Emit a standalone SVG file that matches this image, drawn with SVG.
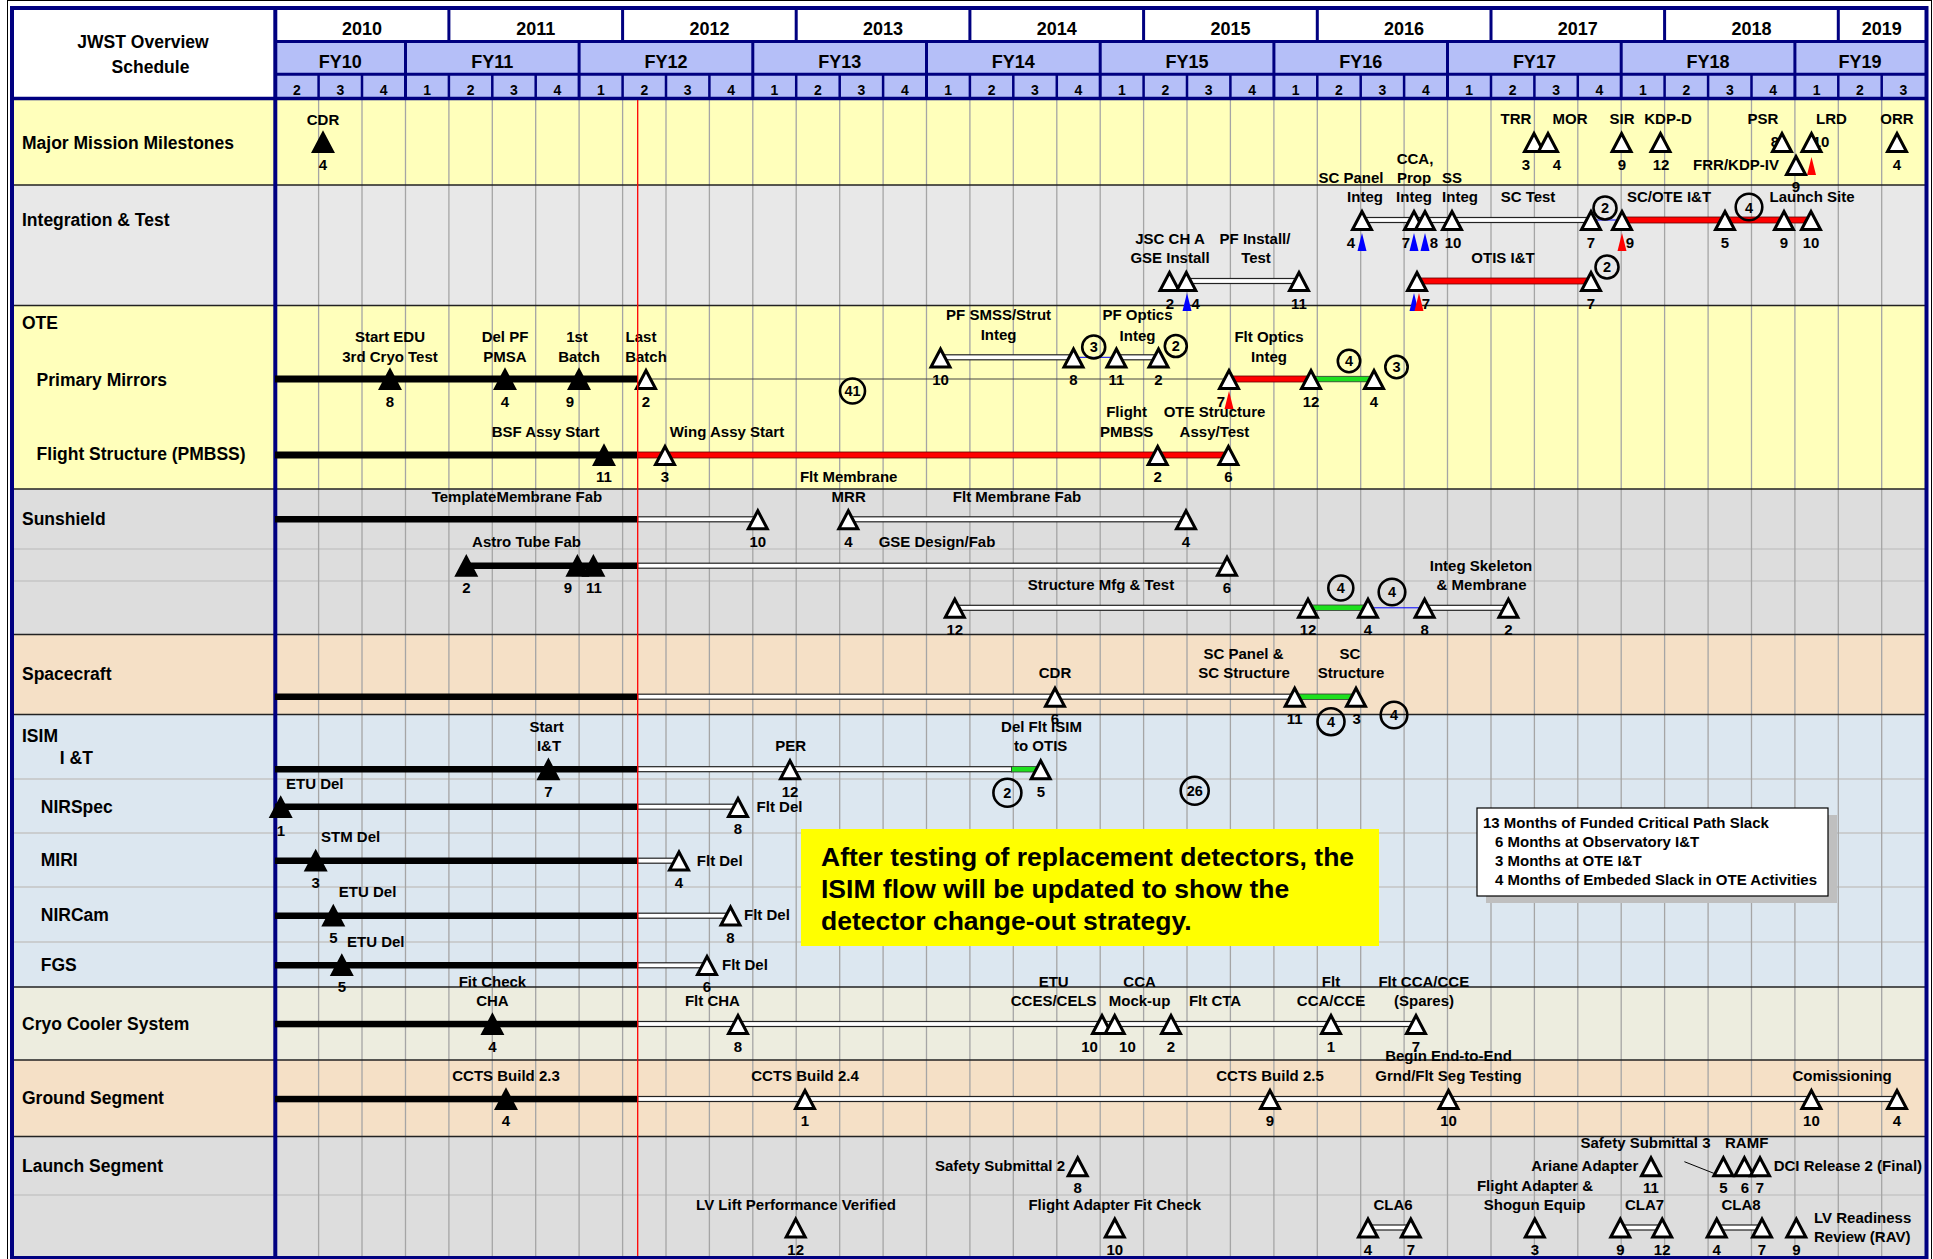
<svg xmlns="http://www.w3.org/2000/svg" width="1933" height="1259" viewBox="0 0 1933 1259">
<style>
text{font-family:"Liberation Sans",Arial,sans-serif;font-weight:bold;fill:#000}
.sec{font-size:17.5px}
.hd{font-size:18px;text-anchor:middle}
.ttl{font-size:17.5px;text-anchor:middle}
.q{font-size:14px;text-anchor:middle}
.l{font-size:15px;text-anchor:middle}
.ls{font-size:15px}
.le{font-size:15px;text-anchor:end}
.n{font-size:15px;text-anchor:middle}
.c{font-size:14.5px;text-anchor:middle}
.note{font-size:26.5px}
.sl{font-size:15px}
.bk{fill:#000}
.wb{fill:#fff;stroke:#222;stroke-width:1.2}
.rb{fill:#f00;stroke:#600;stroke-width:0.8}
.gb{fill:#1ee01e;stroke:#333;stroke-width:0.8}
.grid{stroke:#a5a5a5;stroke-width:1.3;fill:none}
.sep{stroke:#222;stroke-width:1.3}
.sub{stroke:#c4c4c4;stroke-width:1.5}
.nv{stroke:#000080;fill:none}
.cir{fill:none;stroke:#000;stroke-width:2.6}
</style>
<defs>
<path id="tw" d="M0,-8.5 L9.5,9.5 L-9.5,9.5 Z" fill="#fff" stroke="#000" stroke-width="3"/>
<path id="tb" d="M0,-8.5 L9.5,9.5 L-9.5,9.5 Z" fill="#000" stroke="#000" stroke-width="3"/>
<path id="mb" d="M0,0 L4.5,18 L-4.5,18 Z" fill="#0000ff"/>
<path id="mr" d="M0,0 L4.5,18 L-4.5,18 Z" fill="#ff0000"/>
</defs>

<g id="background">
<rect x="0" y="0" width="1933" height="1259" fill="#fff"/>
<rect x="12" y="100" width="1914" height="85" fill="#ffffbb"/>
<rect x="12" y="185" width="1914" height="120.5" fill="#e8e8e8"/>
<rect x="12" y="305.5" width="1914" height="183.5" fill="#ffffbb"/>
<rect x="12" y="489" width="1914" height="145.5" fill="#dddddd"/>
<rect x="12" y="634.5" width="1914" height="80" fill="#f5e0c6"/>
<rect x="12" y="714.5" width="1914" height="272.5" fill="#dce7f0"/>
<rect x="12" y="987" width="1914" height="73" fill="#ededdf"/>
<rect x="12" y="1060" width="1914" height="76.5" fill="#f5e0c6"/>
<rect x="12" y="1136.5" width="1914" height="122" fill="#dddddd"/>
<g class="sub">
<line x1="12" y1="549" x2="1926" y2="549"/><line x1="12" y1="581" x2="1926" y2="581"/>
<line x1="12" y1="779" x2="1926" y2="779"/><line x1="12" y1="833" x2="1926" y2="833"/>
<line x1="12" y1="887" x2="1926" y2="887"/><line x1="12" y1="942" x2="1926" y2="942"/>
<line x1="12" y1="1195" x2="1926" y2="1195"/>
</g>
<path class="grid" d="M318.6,100V1256M362,100V1256M405.5,100V1256M448.9,100V1256M492.3,100V1256M535.7,100V1256M579.1,100V1256M622.6,100V1256M666,100V1256M709.4,100V1256M752.8,100V1256M796.2,100V1256M839.7,100V1256M883.1,100V1256M926.5,100V1256M969.9,100V1256M1013.3,100V1256M1056.8,100V1256M1100.2,100V1256M1143.6,100V1256M1187,100V1256M1230.4,100V1256M1273.9,100V1256M1317.3,100V1256M1360.7,100V1256M1404.1,100V1256M1447.5,100V1256M1491,100V1256M1534.4,100V1256M1577.8,100V1256M1621.2,100V1256M1664.6,100V1256M1708.1,100V1256M1751.5,100V1256M1794.9,100V1256M1838.3,100V1256M1881.7,100V1256"/>
<g class="sep">
<line x1="12" y1="185" x2="1926" y2="185"/><line x1="12" y1="305.5" x2="1926" y2="305.5"/>
<line x1="12" y1="489" x2="1926" y2="489"/><line x1="12" y1="634.5" x2="1926" y2="634.5"/>
<line x1="12" y1="714.5" x2="1926" y2="714.5"/><line x1="12" y1="987" x2="1926" y2="987"/>
<line x1="12" y1="1060" x2="1926" y2="1060"/><line x1="12" y1="1136.5" x2="1926" y2="1136.5"/>
</g>
</g>

<g id="header">
<rect x="12" y="8" width="1914" height="92" fill="#fff"/>
<rect x="275.2" y="41.5" width="1650" height="57" fill="#b5bff8"/>
<line class="nv" stroke-width="3" x1="275" y1="41.5" x2="1926" y2="41.5"/>
<line class="nv" stroke-width="3" x1="275" y1="74.2" x2="1926" y2="74.2"/>
<line class="nv" stroke-width="3.5" x1="12" y1="98.5" x2="1926" y2="98.5"/>
<path class="nv" stroke-width="3" d="M448.9,8V41.5M622.6,8V41.5M796.2,8V41.5M969.9,8V41.5M1143.6,8V41.5M1317.3,8V41.5M1491,8V41.5M1664.6,8V41.5M1838.3,8V41.5"/>
<path class="nv" stroke-width="3" d="M405.5,41.5V98M579.1,41.5V98M752.8,41.5V98M926.5,41.5V98M1100.2,41.5V98M1273.9,41.5V98M1447.5,41.5V98M1621.2,41.5V98M1794.9,41.5V98"/>
<path class="nv" stroke-width="2.5" d="M318.6,74V98M362,74V98M448.9,74V98M492.3,74V98M535.7,74V98M622.6,74V98M666,74V98M709.4,74V98M796.2,74V98M839.7,74V98M883.1,74V98M969.9,74V98M1013.3,74V98M1056.8,74V98M1143.6,74V98M1187,74V98M1230.4,74V98M1317.3,74V98M1360.7,74V98M1404.1,74V98M1491,74V98M1534.4,74V98M1577.8,74V98M1664.6,74V98M1708.1,74V98M1751.5,74V98M1838.3,74V98M1881.7,74V98"/>
<text class="ttl" x="143" y="48">JWST Overview</text>
<text class="ttl" x="150.5" y="72.7">Schedule</text>
<text class="hd" x="362" y="35">2010</text><text class="hd" x="535.7" y="35">2011</text><text class="hd" x="709.4" y="35">2012</text><text class="hd" x="883.1" y="35">2013</text><text class="hd" x="1056.8" y="35">2014</text><text class="hd" x="1230.4" y="35">2015</text><text class="hd" x="1404.1" y="35">2016</text><text class="hd" x="1577.8" y="35">2017</text><text class="hd" x="1751.5" y="35">2018</text><text class="hd" x="1881.7" y="35">2019</text>
<text class="hd" x="340.3" y="68">FY10</text><text class="hd" x="492.3" y="68">FY11</text><text class="hd" x="666" y="68">FY12</text><text class="hd" x="839.7" y="68">FY13</text><text class="hd" x="1013.3" y="68">FY14</text><text class="hd" x="1187" y="68">FY15</text><text class="hd" x="1360.7" y="68">FY16</text><text class="hd" x="1534.4" y="68">FY17</text><text class="hd" x="1708.1" y="68">FY18</text><text class="hd" x="1860" y="68">FY19</text>
<g>
<text class="q" x="296.9" y="94.5">2</text><text class="q" x="340.3" y="94.5">3</text><text class="q" x="383.7" y="94.5">4</text>
<text class="q" x="427.2" y="94.5">1</text><text class="q" x="470.6" y="94.5">2</text><text class="q" x="514" y="94.5">3</text><text class="q" x="557.4" y="94.5">4</text>
<text class="q" x="600.8" y="94.5">1</text><text class="q" x="644.3" y="94.5">2</text><text class="q" x="687.7" y="94.5">3</text><text class="q" x="731.1" y="94.5">4</text>
<text class="q" x="774.5" y="94.5">1</text><text class="q" x="817.9" y="94.5">2</text><text class="q" x="861.4" y="94.5">3</text><text class="q" x="904.8" y="94.5">4</text>
<text class="q" x="948.2" y="94.5">1</text><text class="q" x="991.6" y="94.5">2</text><text class="q" x="1035" y="94.5">3</text><text class="q" x="1078.5" y="94.5">4</text>
<text class="q" x="1121.9" y="94.5">1</text><text class="q" x="1165.3" y="94.5">2</text><text class="q" x="1208.7" y="94.5">3</text><text class="q" x="1252.1" y="94.5">4</text>
<text class="q" x="1295.6" y="94.5">1</text><text class="q" x="1339" y="94.5">2</text><text class="q" x="1382.4" y="94.5">3</text><text class="q" x="1425.8" y="94.5">4</text>
<text class="q" x="1469.2" y="94.5">1</text><text class="q" x="1512.7" y="94.5">2</text><text class="q" x="1556.1" y="94.5">3</text><text class="q" x="1599.5" y="94.5">4</text>
<text class="q" x="1642.9" y="94.5">1</text><text class="q" x="1686.3" y="94.5">2</text><text class="q" x="1729.8" y="94.5">3</text><text class="q" x="1773.2" y="94.5">4</text>
<text class="q" x="1816.6" y="94.5">1</text><text class="q" x="1860" y="94.5">2</text><text class="q" x="1903.4" y="94.5">3</text>
</g>
</g>

<g id="frame">
<rect x="7.5" y="0.5" width="1924" height="1259" fill="none" stroke="#000" stroke-width="1"/>
<rect x="12" y="8" width="1914.5" height="1250" class="nv" stroke-width="4"/>
<line class="nv" stroke-width="4" x1="275.3" y1="8" x2="275.3" y2="1258"/>
</g>

<g id="row-labels">
<text class="sec" x="22" y="148.5">Major Mission Milestones</text>
<text class="sec" x="22" y="226">Integration &amp; Test</text>
<text class="sec" x="22" y="328.5">OTE</text>
<text class="sec" x="36.6" y="386">Primary Mirrors</text>
<text class="sec" x="36.6" y="460">Flight Structure (PMBSS)</text>
<text class="sec" x="22" y="525">Sunshield</text>
<text class="sec" x="22" y="680">Spacecraft</text>
<text class="sec" x="22" y="742">ISIM</text>
<text class="sec" x="59.8" y="764">I &amp;T</text>
<text class="sec" x="40.8" y="812.5">NIRSpec</text>
<text class="sec" x="40.8" y="866">MIRI</text>
<text class="sec" x="40.8" y="921">NIRCam</text>
<text class="sec" x="40.8" y="971">FGS</text>
<text class="sec" x="22" y="1030">Cryo Cooler System</text>
<text class="sec" x="22" y="1104">Ground Segment</text>
<text class="sec" x="22" y="1172">Launch Segment</text>
</g>

<g id="connectors">
<rect class="bk" x="275" y="375.5" width="362.7" height="7"/>
<rect class="bk" x="275" y="451.5" width="362.7" height="7"/>
<rect class="bk" x="275" y="516" width="362.7" height="6.5"/>
<rect class="bk" x="466" y="562.5" width="171.7" height="6.5"/>
<rect class="bk" x="275" y="693.5" width="362.7" height="6.5"/>
<rect class="bk" x="275" y="766" width="362.7" height="6.5"/>
<rect class="bk" x="275" y="803.5" width="362.7" height="6.5"/>
<rect class="bk" x="275" y="857.5" width="362.7" height="6.5"/>
<rect class="bk" x="275" y="912.5" width="362.7" height="6.5"/>
<rect class="bk" x="275" y="962" width="362.7" height="6.5"/>
<rect class="bk" x="275" y="1020.8" width="362.7" height="6.5"/>
<rect class="bk" x="275" y="1095.8" width="362.7" height="6.5"/>

<rect class="wb" x="1362" y="217.5" width="229" height="5"/>
<rect class="wb" x="1186" y="278.5" width="113" height="5"/>
<rect class="wb" x="940.5" y="354.8" width="133" height="5"/>
<rect class="wb" x="1116.4" y="354.8" width="42" height="5"/>
<rect class="wb" x="637.7" y="516.8" width="120" height="5"/>
<rect class="wb" x="848.3" y="516.8" width="337.7" height="5"/>
<rect class="wb" x="637.7" y="563.2" width="589.3" height="5"/>
<rect class="wb" x="955" y="605.3" width="353" height="5"/>
<rect class="wb" x="1424.6" y="605.3" width="83.8" height="5"/>
<rect class="wb" x="637.7" y="694.2" width="657" height="5"/>
<rect class="wb" x="637.7" y="766.7" width="374" height="5"/>
<rect class="wb" x="637.7" y="804.2" width="100.3" height="5"/>
<rect class="wb" x="637.7" y="858.2" width="41.3" height="5"/>
<rect class="wb" x="637.7" y="913.2" width="92.8" height="5"/>
<rect class="wb" x="637.7" y="962.8" width="69.3" height="5"/>
<rect class="wb" x="637.7" y="1021.5" width="778.3" height="5"/>
<rect class="wb" x="637.7" y="1096.5" width="1259.3" height="5"/>
<rect class="wb" x="1368" y="1225" width="42.8" height="5"/>
<rect class="wb" x="1620.3" y="1225" width="41.9" height="5"/>
<rect class="wb" x="1716.7" y="1225" width="45.3" height="5"/>

<rect class="rb" x="1622" y="217" width="189" height="6"/>
<rect class="rb" x="1417" y="278" width="174" height="6"/>
<rect class="rb" x="1229" y="376" width="82" height="6"/>
<rect class="rb" x="637.7" y="452" width="590.7" height="6"/>

<rect class="gb" x="1311" y="376.3" width="63" height="5.5"/>
<rect class="gb" x="1308" y="605" width="60" height="5.5"/>
<rect class="gb" x="1294.7" y="694" width="61.3" height="5.5"/>
<rect class="gb" x="1011.6" y="766.5" width="28.4" height="5.5"/>

<line x1="646" y1="379" x2="1229" y2="379" stroke="#444" stroke-width="1.2"/>
<line x1="1073.5" y1="357.3" x2="1116.4" y2="357.3" stroke="#0000ff" stroke-width="1"/>
<line x1="1591" y1="220" x2="1622" y2="220" stroke="#0000ff" stroke-width="1"/>
<line x1="1368" y1="607.8" x2="1424.6" y2="607.8" stroke="#0000ff" stroke-width="1"/>
<line x1="1684.4" y1="1161.7" x2="1713.8" y2="1173.3" stroke="#000" stroke-width="1"/>
</g>

<g id="milestones">
<text class="l" x="323" y="125">CDR</text><use href="#tb" x="323" y="142"/><text class="n" x="323" y="170">4</text>
<text class="l" x="1516" y="124">TRR</text><text class="l" x="1570" y="124">MOR</text><text class="l" x="1622" y="124">SIR</text><text class="l" x="1668" y="124">KDP-D</text><text class="l" x="1763" y="124">PSR</text><text class="l" x="1831.5" y="124">LRD</text><text class="l" x="1897" y="124">ORR</text>
<text class="n" x="1775" y="147">8</text><text class="n" x="1821" y="147">10</text>
<use href="#tw" x="1534" y="142"/><use href="#tw" x="1548" y="142"/><use href="#tw" x="1621.6" y="142"/><use href="#tw" x="1660.5" y="142"/><use href="#tw" x="1782" y="142"/><use href="#tw" x="1811.5" y="142"/><use href="#tw" x="1897" y="142"/>
<use href="#mr" x="1811.5" y="157"/>
<text class="l" x="1736" y="170">FRR/KDP-IV</text><use href="#tw" x="1796" y="165"/><text class="n" x="1796" y="192">9</text>
<text class="n" x="1526" y="170">3</text><text class="n" x="1557" y="170">4</text><text class="n" x="1622" y="170">9</text><text class="n" x="1661" y="170">12</text><text class="n" x="1897" y="170">4</text>
</g>

<g id="integration-test">
<text class="l" x="1351" y="183.4">SC Panel</text><text class="l" x="1365" y="202.4">Integ</text>
<text class="l" x="1415" y="164">CCA,</text><text class="l" x="1414" y="183.4">Prop</text><text class="l" x="1414" y="202.4">Integ</text>
<text class="l" x="1452" y="183.4">SS</text><text class="l" x="1460" y="202.4">Integ</text>
<text class="l" x="1528" y="202.4">SC Test</text><text class="l" x="1669" y="202.4">SC/OTE I&amp;T</text><text class="l" x="1812" y="202.4">Launch Site</text>
<use href="#tw" x="1362" y="220"/><use href="#tw" x="1414" y="220"/><use href="#tw" x="1425" y="220"/><use href="#tw" x="1452" y="220"/><use href="#tw" x="1591" y="220"/><use href="#tw" x="1622" y="220"/><use href="#tw" x="1725" y="220"/><use href="#tw" x="1784" y="220"/><use href="#tw" x="1811" y="220"/>
<use href="#mb" x="1362" y="233"/><use href="#mb" x="1414" y="233"/><use href="#mb" x="1425" y="233"/><use href="#mr" x="1622" y="233"/>
<text class="n" x="1351" y="248.4">4</text><text class="n" x="1406" y="248.4">7</text><text class="n" x="1434" y="248.4">8</text><text class="n" x="1453" y="248.4">10</text><text class="n" x="1591" y="248.4">7</text><text class="n" x="1630" y="248.4">9</text><text class="n" x="1725" y="248.4">5</text><text class="n" x="1784" y="248.4">9</text><text class="n" x="1811" y="248.4">10</text>
<text class="l" x="1170" y="244">JSC CH A</text><text class="l" x="1170" y="263">GSE Install</text>
<text class="l" x="1255" y="244">PF Install/</text><text class="l" x="1256" y="263">Test</text>
<text class="l" x="1503" y="263.4">OTIS I&amp;T</text>
<use href="#tw" x="1169.5" y="281"/><use href="#tw" x="1186.3" y="281"/><use href="#tw" x="1299" y="281"/><use href="#tw" x="1417" y="281"/><use href="#tw" x="1591" y="281"/>
<use href="#mb" x="1187" y="293"/><use href="#mb" x="1414" y="293"/><use href="#mr" x="1419" y="293"/>
<text class="n" x="1170" y="309">2</text><text class="n" x="1195.6" y="309">4</text><text class="n" x="1299" y="309">11</text><text class="n" x="1426" y="309">7</text><text class="n" x="1591" y="309">7</text>
<circle class="cir" cx="1605" cy="208" r="11.5"/><text class="c" x="1605" y="213">2</text>
<circle class="cir" cx="1749" cy="207" r="13.3"/><text class="c" x="1749" y="212.5">4</text>
<circle class="cir" cx="1607" cy="267" r="11.5"/><text class="c" x="1607" y="272">2</text>
</g>

<g id="ote">
<text class="l" x="390" y="342.4">Start EDU</text><text class="l" x="390" y="361.7">3rd Cryo Test</text>
<text class="l" x="505" y="342.4">Del PF</text><text class="l" x="505" y="361.7">PMSA</text>
<text class="l" x="577" y="342.4">1st</text><text class="l" x="579" y="361.7">Batch</text>
<text class="l" x="641" y="342.4">Last</text><text class="l" x="646" y="361.7">Batch</text>
<use href="#tb" x="390" y="379"/><use href="#tb" x="505" y="379"/><use href="#tb" x="579" y="379"/><use href="#tw" x="646" y="379"/>
<text class="n" x="390" y="407.4">8</text><text class="n" x="505" y="407.4">4</text><text class="n" x="570" y="407.4">9</text><text class="n" x="646" y="407.4">2</text>
<circle class="cir" cx="852.5" cy="391" r="12.5"/><text class="c" x="852.5" y="396">41</text>
<text class="l" x="998.6" y="320">PF SMSS/Strut</text><text class="l" x="998.6" y="340">Integ</text>
<text class="l" x="1137.5" y="320">PF Optics</text><text class="l" x="1137.5" y="340.7">Integ</text>
<use href="#tw" x="940.5" y="357.5"/><use href="#tw" x="1073.5" y="357.5"/><use href="#tw" x="1116.4" y="357.5"/><use href="#tw" x="1158.5" y="357.5"/>
<text class="n" x="940.5" y="385">10</text><text class="n" x="1073.5" y="385">8</text><text class="n" x="1116.4" y="385">11</text><text class="n" x="1158.5" y="385">2</text>
<circle class="cir" cx="1093.7" cy="347" r="11.5"/><text class="c" x="1093.7" y="352">3</text>
<circle class="cir" cx="1175.8" cy="346" r="11"/><text class="c" x="1175.8" y="351">2</text>
<text class="l" x="1269" y="342.4">Flt Optics</text><text class="l" x="1269" y="361.7">Integ</text>
<use href="#tw" x="1229" y="379"/><use href="#tw" x="1311" y="379"/><use href="#tw" x="1374" y="379"/>
<use href="#mr" x="1229" y="391"/>
<text class="n" x="1221" y="407.4">7</text><text class="n" x="1311" y="407.4">12</text><text class="n" x="1374" y="407.4">4</text>
<circle class="cir" cx="1349" cy="361" r="11.2"/><text class="c" x="1349" y="366">4</text>
<circle class="cir" cx="1396.5" cy="367" r="11.2"/><text class="c" x="1396.5" y="372">3</text>
<text class="l" x="545.6" y="437.4">BSF Assy Start</text><text class="l" x="727" y="437.4">Wing Assy Start</text>
<text class="l" x="1126.6" y="417.4">Flight</text><text class="l" x="1126.6" y="436.7">PMBSS</text>
<text class="l" x="1214.5" y="417.4">OTE Structure</text><text class="l" x="1214.5" y="436.7">Assy/Test</text>
<use href="#tb" x="604" y="455"/><use href="#tw" x="665" y="455"/><use href="#tw" x="1157.7" y="455"/><use href="#tw" x="1228.4" y="455"/>
<text class="n" x="604" y="482.4">11</text><text class="n" x="665" y="482.4">3</text><text class="n" x="1157.7" y="482.4">2</text><text class="n" x="1228.4" y="482.4">6</text>
</g>

<g id="sunshield">
<text class="l" x="848.7" y="482.4">Flt Membrane</text><text class="l" x="848.7" y="501.7">MRR</text>
<text class="l" x="517" y="501.7">TemplateMembrane Fab</text><text class="l" x="1017" y="501.7">Flt Membrane Fab</text>
<use href="#tw" x="757.8" y="519.3"/><use href="#tw" x="848.3" y="519.3"/><use href="#tw" x="1186" y="519.3"/>
<text class="n" x="757.8" y="547.4">10</text><text class="n" x="848.3" y="547.4">4</text><text class="n" x="1186" y="547.4">4</text>
<text class="l" x="526.5" y="547.4">Astro Tube Fab</text><text class="l" x="937" y="547.4">GSE Design/Fab</text>
<use href="#tb" x="466.3" y="565.7"/><use href="#tb" x="577.4" y="565.7"/><use href="#tb" x="593.4" y="565.7"/><use href="#tw" x="1227" y="565.7"/>
<text class="n" x="466.3" y="593.4">2</text><text class="n" x="568" y="593.4">9</text><text class="n" x="594" y="593.4">11</text><text class="n" x="1227" y="593.4">6</text>
<text class="l" x="1101" y="590">Structure Mfg &amp; Test</text>
<text class="l" x="1481" y="570.7">Integ Skeleton</text><text class="l" x="1481.6" y="590">&amp; Membrane</text>
<use href="#tw" x="954.8" y="607.8"/><use href="#tw" x="1308" y="607.8"/><use href="#tw" x="1368" y="607.8"/><use href="#tw" x="1424.6" y="607.8"/><use href="#tw" x="1508.4" y="607.8"/>
<text class="n" x="954.8" y="635">12</text><text class="n" x="1308" y="635">12</text><text class="n" x="1368" y="635">4</text><text class="n" x="1424.6" y="635">8</text><text class="n" x="1508.4" y="635">2</text>
<circle class="cir" cx="1340.8" cy="588" r="12.5"/><text class="c" x="1340.8" y="593">4</text>
<circle class="cir" cx="1392" cy="592" r="13.3"/><text class="c" x="1392" y="597">4</text>
</g>

<g id="spacecraft">
<text class="l" x="1055" y="678.4">CDR</text>
<text class="l" x="1243.5" y="659">SC Panel &amp;</text><text class="l" x="1244" y="678.4">SC Structure</text>
<text class="l" x="1350" y="659">SC</text><text class="l" x="1351" y="678.4">Structure</text>
<use href="#tw" x="1055" y="696.7"/><use href="#tw" x="1294.7" y="696.7"/><use href="#tw" x="1356" y="696.7"/>
<text class="n" x="1055" y="724">6</text><text class="n" x="1294.7" y="724">11</text><text class="n" x="1356.7" y="724">3</text>
<circle class="cir" cx="1331" cy="721.7" r="13.5"/><text class="c" x="1331" y="727">4</text>
<circle class="cir" cx="1394" cy="715" r="13.3"/><text class="c" x="1394" y="720">4</text>
</g>

<g id="isim">
<text class="l" x="546.7" y="732.4">Start</text><text class="l" x="549" y="750.7">I&amp;T</text>
<text class="l" x="790.7" y="751.4">PER</text>
<text class="l" x="1041.5" y="731.7">Del Flt ISIM</text><text class="l" x="1040.7" y="751.4">to OTIS</text>
<use href="#tb" x="548.4" y="769.2"/><use href="#tw" x="790" y="769.2"/><use href="#tw" x="1040.7" y="769.2"/>
<text class="n" x="548.4" y="797.4">7</text><text class="n" x="790" y="797.4">12</text><text class="n" x="1041" y="797.4">5</text>
<circle class="cir" cx="1007.4" cy="792.7" r="14"/><text class="c" x="1007.4" y="798">2</text>
<circle class="cir" cx="1194.7" cy="790.7" r="14"/><text class="c" x="1194.7" y="796">26</text>
<text class="ls" x="286" y="789">ETU Del</text><text class="ls" x="756.6" y="811.7">Flt Del</text>
<use href="#tb" x="280.7" y="807"/><use href="#tw" x="738" y="807"/>
<text class="n" x="281" y="835.7">1</text><text class="n" x="738" y="834">8</text>
<text class="ls" x="321" y="842.4">STM Del</text><text class="ls" x="696.8" y="865.7">Flt Del</text>
<use href="#tb" x="315.7" y="860.5"/><use href="#tw" x="679" y="860.5"/>
<text class="n" x="315.7" y="888">3</text><text class="n" x="679" y="888">4</text>
<text class="ls" x="338.8" y="897.4">ETU Del</text><text class="ls" x="744" y="920">Flt Del</text>
<use href="#tb" x="333.3" y="915.5"/><use href="#tw" x="730.5" y="915.5"/>
<text class="n" x="333.3" y="943">5</text><text class="n" x="730.5" y="943">8</text>
<text class="ls" x="347" y="947.4">ETU Del</text><text class="ls" x="722" y="970">Flt Del</text>
<use href="#tb" x="341.8" y="965"/><use href="#tw" x="707" y="965"/>
<text class="n" x="341.8" y="992.4">5</text><text class="n" x="707" y="992.4">6</text>
</g>

<g id="cryo-cooler">
<text class="l" x="492.4" y="986.7">Fit Check</text><text class="l" x="492.4" y="1006.4">CHA</text>
<text class="l" x="712.4" y="1006.4">Flt CHA</text>
<text class="l" x="1053.7" y="986.7">ETU</text><text class="l" x="1053.7" y="1006.4">CCES/CELS</text>
<text class="l" x="1139.6" y="986.7">CCA</text><text class="l" x="1139.6" y="1006.4">Mock-up</text>
<text class="l" x="1215" y="1006.4">Flt CTA</text>
<text class="l" x="1331" y="986.7">Flt</text><text class="l" x="1331" y="1006.4">CCA/CCE</text>
<text class="l" x="1423.8" y="986.7">Flt CCA/CCE</text><text class="l" x="1424" y="1006.4">(Spares)</text>
<use href="#tb" x="492.4" y="1024"/><use href="#tw" x="738" y="1024"/><use href="#tw" x="1102" y="1024"/><use href="#tw" x="1114.7" y="1024"/><use href="#tw" x="1171" y="1024"/><use href="#tw" x="1331" y="1024"/><use href="#tw" x="1416" y="1024"/>
<text class="n" x="492.4" y="1051.7">4</text><text class="n" x="738" y="1051.7">8</text><text class="n" x="1089.5" y="1051.7">10</text><text class="n" x="1127.4" y="1051.7">10</text><text class="n" x="1171" y="1051.7">2</text><text class="n" x="1331" y="1051.7">1</text><text class="n" x="1416" y="1051.7">7</text>
</g>

<g id="ground-segment">
<text class="l" x="506" y="1080.7">CCTS Build 2.3</text><text class="l" x="805" y="1080.7">CCTS Build 2.4</text><text class="l" x="1270" y="1080.7">CCTS Build 2.5</text>
<text class="l" x="1448.5" y="1061.4">Begin End-to-End</text><text class="l" x="1448.5" y="1080.7">Grnd/Flt Seg Testing</text>
<text class="l" x="1842" y="1080.7">Comissioning</text>
<use href="#tb" x="506" y="1099"/><use href="#tw" x="805" y="1099"/><use href="#tw" x="1270" y="1099"/><use href="#tw" x="1448.5" y="1099"/><use href="#tw" x="1811.4" y="1099"/><use href="#tw" x="1897" y="1099"/>
<text class="n" x="506" y="1126.4">4</text><text class="n" x="805" y="1126.4">1</text><text class="n" x="1270" y="1126.4">9</text><text class="n" x="1448.5" y="1126.4">10</text><text class="n" x="1811.4" y="1126.4">10</text><text class="n" x="1897" y="1126.4">4</text>
</g>

<g id="launch-segment">
<text class="le" x="1065" y="1170.7">Safety Submittal 2</text>
<text class="l" x="1645.5" y="1148.4">Safety Submittal 3</text><text class="l" x="1746.7" y="1148.4">RAMF</text>
<text class="le" x="1638.3" y="1171.4">Ariane Adapter</text>
<text class="ls" x="1773.7" y="1171.4">DCI Release 2 (Final)</text>
<use href="#tw" x="1077.7" y="1166.3"/><use href="#tw" x="1651" y="1166.3"/><use href="#tw" x="1723.4" y="1166.3"/><use href="#tw" x="1744.4" y="1166.3"/><use href="#tw" x="1760" y="1166.3"/>
<text class="n" x="1077.7" y="1193.4">8</text><text class="n" x="1651" y="1193.4">11</text><text class="n" x="1723.4" y="1193.4">5</text><text class="n" x="1745" y="1193.4">6</text><text class="n" x="1760" y="1193.4">7</text>
<text class="l" x="796" y="1209.7">LV Lift Performance Verified</text>
<text class="l" x="1114.8" y="1209.7">Flight Adapter Fit Check</text>
<text class="l" x="1393" y="1209.7">CLA6</text>
<text class="l" x="1535" y="1190.7">Flight Adapter &amp;</text><text class="l" x="1534.6" y="1209.7">Shogun Equip</text>
<text class="l" x="1644.6" y="1209.7">CLA7</text><text class="l" x="1741" y="1209.7">CLA8</text>
<text class="ls" x="1814" y="1223">LV Readiness</text><text class="ls" x="1814" y="1242.4">Review (RAV)</text>
<use href="#tw" x="795.7" y="1227.5"/><use href="#tw" x="1114.8" y="1227.5"/><use href="#tw" x="1368" y="1227.5"/><use href="#tw" x="1410.8" y="1227.5"/><use href="#tw" x="1534.8" y="1227.5"/><use href="#tw" x="1620.3" y="1227.5"/><use href="#tw" x="1662.2" y="1227.5"/><use href="#tw" x="1716.7" y="1227.5"/><use href="#tw" x="1762" y="1227.5"/><use href="#tw" x="1796.3" y="1227.5"/>
<text class="n" x="795.7" y="1254.7">12</text><text class="n" x="1114.8" y="1254.7">10</text><text class="n" x="1368" y="1254.7">4</text><text class="n" x="1410.8" y="1254.7">7</text><text class="n" x="1534.8" y="1254.7">3</text><text class="n" x="1620.3" y="1254.7">9</text><text class="n" x="1662.2" y="1254.7">12</text><text class="n" x="1716.7" y="1254.7">4</text><text class="n" x="1762" y="1254.7">7</text><text class="n" x="1796.3" y="1254.7">9</text>
</g>

<g id="note-box">
<rect x="801" y="829" width="578" height="117" fill="#ffff00"/>
<text class="note" x="821" y="866">After testing of replacement detectors, the</text>
<text class="note" x="821" y="898">ISIM flow will be updated to show the</text>
<text class="note" x="821" y="930">detector change-out strategy.</text>
</g>

<g id="slack-box">
<rect x="1486" y="815" width="351" height="88" fill="#bfbfbf"/>
<rect x="1477" y="808" width="351" height="88" fill="#fff" stroke="#000" stroke-width="1.2"/>
<text class="sl" x="1483" y="827.5">13 Months of Funded Critical Path Slack</text>
<text class="sl" x="1495" y="846.7">6 Months at Observatory I&amp;T</text>
<text class="sl" x="1495" y="865.7">3 Months at OTE I&amp;T</text>
<text class="sl" x="1495" y="885">4 Months of Embeded Slack in OTE Activities</text>
</g>

<line id="today-line" x1="637.7" y1="100" x2="637.7" y2="1256" stroke="#ff0000" stroke-width="1.3"/>
</svg>
